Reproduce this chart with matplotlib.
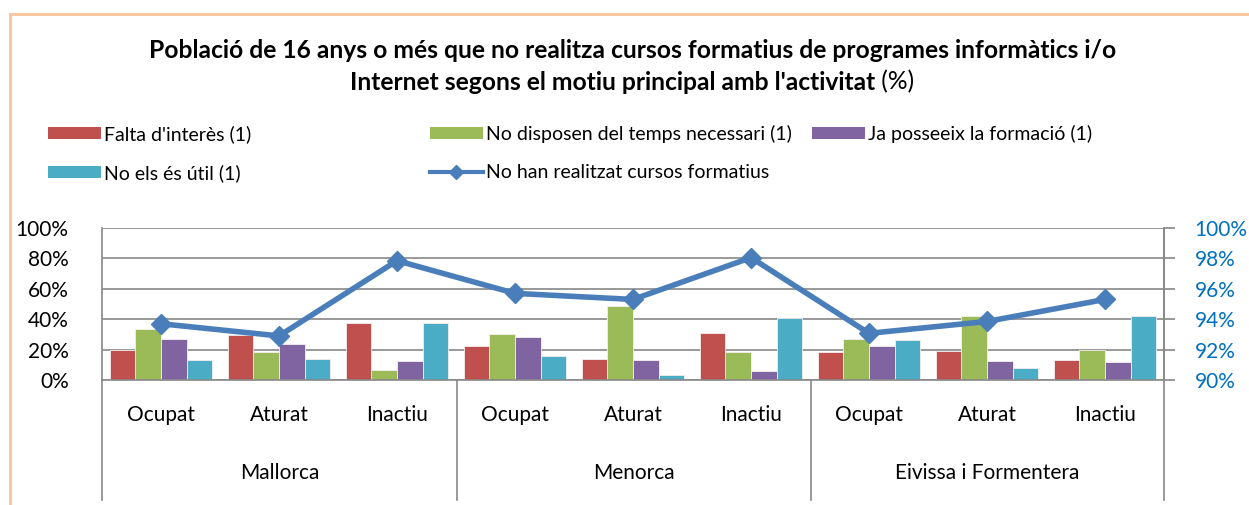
import matplotlib
matplotlib.use("Agg")
import matplotlib.pyplot as plt
from matplotlib.patches import Patch
from matplotlib.lines import Line2D
import numpy as np

plt.rcParams['font.family'] = ['Lato', 'DejaVu Sans']

islands = ["Mallorca", "Menorca", "Eivissa i Formentera"]
statuses = ["Ocupat", "Aturat", "Inactiu"]
series_names = ["Falta d'interès (1)", "No disposen del temps necessari (1)",
                "Ja posseeix la formació (1)", "No els és útil (1)"]
line_name = "No han realitzat cursos formatius"

falta_interes = [19.7, 29.5, 37.2, 22.3, 13.6, 31.1, 18.6, 19.0, 13.3]
no_temps = [33.5, 18.6, 6.8, 30.0, 49.0, 18.6, 26.9, 42.0, 19.9]
ja_formacio = [27.1, 23.6, 12.3, 28.2, 13.1, 5.9, 22.3, 12.7, 11.8]
no_util = [12.9, 13.6, 37.4, 15.8, 3.5, 40.5, 26.5, 8.1, 42.2]
no_cursos = [93.7, 92.9, 97.85, 95.7, 95.3, 98.05, 93.07, 93.85, 95.3]

colors = ["#C0504D", "#9BBB59", "#8064A2", "#4BACC6"]
line_color = "#4A7EBB"
grid_color = "#888888"

W, H = 1249, 505
fig = plt.figure(figsize=(W / 100, H / 100), dpi=100)

def fx(px):
    return px / W

def fy(py):
    return 1 - py / H

ax_l, ax_r, ax_t, ax_b = 102, 1164, 228, 380
ax = fig.add_axes([fx(ax_l), fy(ax_b), fx(ax_r - ax_l), (ax_b - ax_t) / H])

x = np.arange(len(falta_interes))
bw = 0.218
all_series = [falta_interes, no_temps, ja_formacio, no_util]
for i, (vals, c) in enumerate(zip(all_series, colors)):
    ax.bar(x + (i - 1.5) * bw, vals, width=bw, color=c, edgecolor="#F4EEEE",
           linewidth=0.6, zorder=2)

ax.set_xlim(-0.5, len(x) - 0.5)
ax.set_ylim(0, 100)
ax.set_yticks(np.arange(0, 101, 20))
ax.set_yticklabels([f"{v}%" for v in range(0, 101, 20)], fontsize=15, color="black")
ax.yaxis.grid(True, color=grid_color, linewidth=1.2, zorder=0)
ax.set_axisbelow(True)
ax.tick_params(axis="y", length=0, pad=24)
ax.set_xticks(x)
ax.set_xticklabels(statuses * 3, fontsize=15)
ax.tick_params(axis="x", length=0, pad=18)
ax.spines["top"].set_visible(False)
for s in ["left", "right", "bottom"]:
    ax.spines[s].set_color(grid_color)
    ax.spines[s].set_linewidth(1.2)

ax2 = ax.twinx()
ax2.plot(x, no_cursos, color=line_color, linewidth=4, marker="D", markersize=10,
         markeredgecolor=line_color, zorder=5)
ax2.set_ylim(90, 100)
ax2.set_yticks(np.arange(90, 101, 2))
ax2.set_yticklabels([f"{v}%" for v in range(90, 101, 2)], fontsize=15, color="#0070C0")
ax2.tick_params(axis="y", length=8, width=1.2, color=grid_color, pad=14)
for s in ["top", "left", "bottom"]:
    ax2.spines[s].set_visible(False)
ax2.spines["right"].set_color(grid_color)
ax2.spines["right"].set_linewidth(1.2)

# group separators and group labels
seps = [ax_l, 457, 811, ax_r]
for sx in seps:
    fig.add_artist(Line2D([fx(sx), fx(sx)], [fy(ax_b), fy(500)], color=grid_color,
                          linewidth=1.2))
for gi, name in enumerate(islands):
    cx = (seps[gi] + seps[gi + 1]) / 2
    fig.text(fx(cx), fy(473), name, ha="center", va="center", fontsize=15)

# orange border
border = "#F9C49A"
fig.add_artist(Line2D([fx(10), fx(10)], [fy(14), 0], color=border, linewidth=2))
fig.add_artist(Line2D([fx(10), 1], [fy(14), fy(14)], color=border, linewidth=2))

# title
tfs = 17.7
fig.text(fx(633), fy(50), "Població de 16 anys o més que no realitza cursos formatius de programes informàtics i/o",
         ha="center", va="center", fontsize=tfs, fontweight="bold")
t_bold = fig.text(0, fy(82), "Internet segons el motiu principal amb l'activitat",
                  ha="left", va="center", fontsize=tfs, fontweight="bold")
t_reg = fig.text(0, fy(82), " (%)", ha="left", va="center", fontsize=tfs)
fig.canvas.draw()
r = fig.canvas.get_renderer()
wb = t_bold.get_window_extent(r).width
wr = t_reg.get_window_extent(r).width
start = 632 - (wb + wr) / 2
t_bold.set_x(fx(start))
t_reg.set_x(fx(start + wb))

# legends
lkw = dict(frameon=False, fontsize=14, borderpad=0, borderaxespad=0,
           handlelength=2.7, handleheight=0.6, handletextpad=0.2,
           labelspacing=1.08, loc="upper left")
h_red = Patch(facecolor=colors[0])
h_grn = Patch(facecolor=colors[1])
h_pur = Patch(facecolor=colors[2])
h_cya = Patch(facecolor=colors[3])
h_line = Line2D([], [], color=line_color, linewidth=3, marker="D", markersize=7)
top_y = fy(125)
fig.legend([h_red, h_cya], [series_names[0], series_names[3]],
           bbox_to_anchor=(fx(48), top_y), **lkw)
fig.legend([h_grn, h_line], [series_names[1], line_name],
           bbox_to_anchor=(fx(430), top_y), **lkw)
fig.legend([h_pur], [series_names[2]],
           bbox_to_anchor=(fx(812), top_y), **lkw)

fig.savefig("out.png", dpi=100)
